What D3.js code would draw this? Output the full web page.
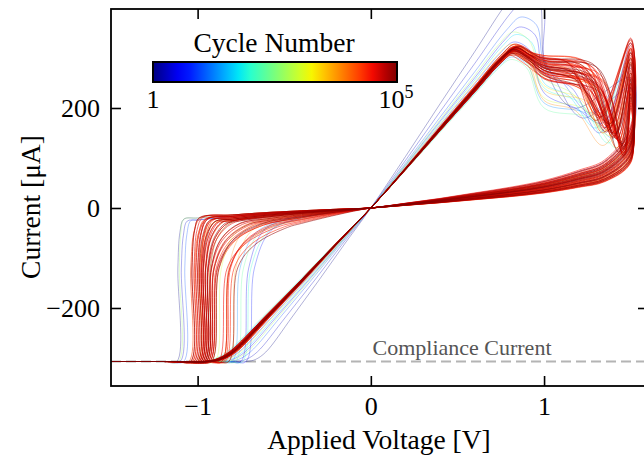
<!DOCTYPE html>
<html>
<head>
<meta charset="utf-8">
<script src="https://cdn.jsdelivr.net/npm/d3@7"></script>
<style>
  body { margin: 0; background: #fff; }
  svg { display: block; font-family: "Liberation Serif", "Times New Roman", serif; }
</style>
</head>
<body>
<div id="chart"></div>
<script>
// sweep cycle numbers (colour = log10 cycle, jet)
let cycles = [1, 2, 3, 5, 10, 20, 50, 100, 200, 500, 1000, 2000, 4000, 7000,
  10000, 11000, 12000, 13000, 14000, 15000, 16000, 17000, 18000, 19000,
  20000, 21000, 22000, 23000, 24000, 25000, 26000, 27000, 28000, 29000,
  30000, 31000, 32000, 33000, 34000, 35000, 36000, 37000, 38000, 39000,
  40000, 43000, 46000, 50000, 55000, 60000, 65000, 70000, 75000, 80000,
  85000, 90000, 93000, 96000, 98000, 100000]

// per cycle values
let lrsGain = [1.32, 1.22, 1.10, 1.05, 1.15, 0.97, 1.08, 1.03, 0.96, 1.12, 1.02, 1.06, 1.01, 0.98,
  1.02, 0.99, 1.01, 1.00, 0.98, 1.03, 1.00, 0.99, 1.01, 1.02,
  0.98, 1.00, 1.01, 0.99, 1.00, 1.02, 0.99, 1.01, 1.00, 0.98,
  1.01, 1.00, 0.99, 1.02, 1.00, 1.01, 0.99, 1.00, 1.01, 1.00,
  0.99, 1.03, 1.00, 0.98, 1.01, 1.00, 0.99, 1.02, 1.00, 1.01,
  0.99, 1.00, 1.01, 0.98, 1.00, 1.01]
let peakI = [440, 420, 360, 330, 380, 300, 345, 320, 295, 350, 310, 325, 315, 305,
  318, 312, 322, 308, 315, 325, 310, 320, 316, 305,
  318, 322, 312, 315, 309, 320, 317, 313, 324, 311,
  316, 319, 307, 321, 314, 318, 312, 316, 320, 313,
  317, 326, 311, 304, 319, 315, 322, 309, 318, 314,
  321, 312, 316, 308, 319, 315]
let plateauA = [330, 300, 270, 230, 290, 210, 250, 240, 200, 260, 220, 245, 235, 215,
  290, 275, 300, 265, 285, 305, 270, 295, 280, 260,
  290, 300, 275, 285, 265, 295, 280, 270, 305, 285,
  275, 295, 260, 300, 280, 290, 270, 285, 298, 275,
  288, 302, 268, 258, 292, 282, 296, 272, 287, 279,
  299, 266, 284, 276, 293, 281]
let plateauB = [280, 260, 240, 200, 250, 190, 225, 210, 180, 230, 200, 220, 215, 195,
  270, 250, 285, 240, 265, 290, 245, 280, 255, 235,
  275, 288, 250, 268, 238, 282, 260, 248, 292, 270,
  255, 280, 236, 286, 258, 274, 244, 266, 284, 252,
  272, 290, 242, 232, 278, 262, 283, 250, 270, 258,
  286, 240, 265, 252, 280, 262]
let resetV = [1.05, 1.10, 1.20, 1.22, 1.15, 1.28, 1.18, 1.25, 1.30, 1.20, 1.26, 1.24, 1.28, 1.22,
  1.22, 1.30, 1.26, 1.35, 1.20, 1.28, 1.33, 1.24, 1.38, 1.27,
  1.31, 1.19, 1.29, 1.36, 1.25, 1.32, 1.23, 1.34, 1.28, 1.21,
  1.37, 1.26, 1.30, 1.24, 1.33, 1.29, 1.35, 1.27, 1.31, 1.25,
  1.32, 1.18, 1.29, 1.36, 1.23, 1.30, 1.27, 1.34, 1.21, 1.28,
  1.33, 1.26, 1.31, 1.24, 1.35, 1.29]
let lowI = [200, 180, 150, 170, 190, 140, 160, 130, 120, 175, 145, 155, 165, 125,
  150, 120, 170, 110, 180, 140, 125, 160, 100, 155,
  135, 185, 145, 115, 165, 130, 175, 105, 150, 190,
  120, 160, 140, 170, 125, 150, 110, 165, 135, 155,
  130, 175, 145, 105, 160, 138, 150, 118, 182, 142,
  128, 168, 112, 152, 122, 148]
let topI = [260, 240, 300, 330, 280, 250, 310, 200, 180, 290, 230, 300, 270, 210,
  300, 250, 320, 220, 330, 270, 240, 310, 200, 290,
  260, 335, 280, 230, 315, 250, 325, 210, 295, 340,
  235, 305, 265, 320, 245, 285, 215, 310, 255, 300,
  275, 330, 248, 205, 318, 262, 292, 228, 338, 270,
  242, 312, 222, 298, 258, 288]
let returnI = [150, 140, 120, 160, 130, 110, 145, 100, 95, 135, 115, 140, 130, 105,
  120, 105, 140, 95, 150, 115, 100, 135, 90, 125,
  110, 160, 118, 98, 145, 108, 155, 92, 128, 165,
  102, 138, 112, 148, 100, 130, 95, 142, 115, 132,
  122, 150, 108, 92, 140, 118, 128, 100, 158, 124,
  106, 145, 96, 134, 110, 126]
let negScale = [0.5, 0.6, 1.5, 1.8, 0.6, 1.6, 1.0, 1.9, 1.7, 0.5, 1.2, 0.9, 1.4, 1.3,
  1.0, 0.7, 1.8, 0.6, 0.9, 2.2, 0.8, 0.5, 1.4, 0.8,
  1.6, 0.6, 1.0, 2.6, 0.6, 1.2, 0.7, 2.0, 0.5, 0.9,
  1.5, 0.7, 2.4, 0.6, 1.1, 1.8, 0.5, 0.8, 1.3, 0.7,
  0.9, 2.1, 0.6, 1.0, 1.7, 0.8, 0.6, 1.4, 0.9, 2.8,
  0.7, 1.2, 0.5, 1.6, 0.8, 1.0]
let onsetV = [-1.08, -1.06, -0.45, -0.40, -1.04, -0.50, -0.80, -0.42, -0.48, -1.08, -0.65, -0.92, -0.55, -0.60,
  -0.80, -0.92, -0.62, -0.95, -0.85, -0.55, -0.90, -0.98, -0.72, -0.88,
  -0.68, -0.94, -0.82, -0.50, -0.96, -0.75, -0.91, -0.58, -0.99, -0.86,
  -0.70, -0.93, -0.54, -0.95, -0.80, -0.62, -0.97, -0.87, -0.74, -0.92,
  -0.89, -0.56, -0.95, -0.82, -0.64, -0.90, -0.94, -0.70, -0.86, -0.48,
  -0.93, -0.76, -0.99, -0.63, -0.90, -0.84]
let setV = [-1.12, -1.10, -0.75, -0.72, -1.08, -0.80, -0.95, -0.74, -0.78, -1.11, -0.90, -1.00, -0.82, -0.86,
  -0.95, -1.00, -0.92, -1.03, -0.97, -0.86, -0.99, -1.05, -0.94, -0.98,
  -0.93, -1.01, -0.96, -0.84, -1.02, -0.95, -0.98, -0.85, -1.04, -0.97,
  -0.94, -0.99, -0.88, -1.00, -0.96, -0.93, -1.03, -0.97, -0.95, -0.99,
  -0.98, -0.86, -1.02, -0.96, -0.93, -0.99, -1.01, -0.94, -0.97, -0.82,
  -1.00, -0.95, -1.04, -0.92, -0.98, -0.96]

// shared loop shape (main band)
let lrsPosV = [0, 0.2, 0.4, 0.6, 0.8]
let lrsPosI = [0, 78, 158, 237, 316]
let lrsNegV = [-0.95, -0.88, -0.8, -0.6, -0.4, -0.2, 0]
let lrsNegI = [-307, -303, -288, -218, -146, -72, 0]
let hrsV = [1.35, 1.2, 1.0, 0.8, 0.6, 0.4, 0.2, 0]
let hrsI = [70, 55, 40, 30, 22, 14, 7, 0]
let negV = [0, -0.2, -0.4, -0.6, -0.8, -1.0, -1.2]
let negI = [0, -5, -11, -18, -28, -40, -52]
let compliance = -307

let xTicks = [-1, 0, 1]
let yTicks = [-200, 0, 200]

let width = 644,
    height = 456

let x = d3.scaleLinear().domain([-1.5, 1.6]).range([111, 648])
let y = d3.scaleLinear().domain([-356, 400]).range([386, 8])

// matplotlib jet
let jetR = d3.scaleLinear().domain([0, 0.35, 0.66, 0.89, 1]).range([0, 0, 1, 1, 0.5])
let jetG = d3.scaleLinear().domain([0, 0.125, 0.375, 0.64, 0.91, 1]).range([0, 0, 1, 1, 0, 0])
let jetB = d3.scaleLinear().domain([0, 0.11, 0.34, 0.65, 1]).range([0.5, 1, 1, 0, 0])
let jet = t => d3.rgb(jetR(t) * 255, jetG(t) * 255, jetB(t) * 255).toString()
let cycleT = d3.scaleLog().domain([1, 1e5]).range([0, 1])

let svg = d3.select("#chart").append("svg")
    .attr("width", width)
    .attr("height", height)

svg.append("defs").append("clipPath")
    .attr("id", "plotclip")
  .append("rect")
    .attr("x", 111).attr("y", 9)
    .attr("width", 537).attr("height", 377)

// dashed compliance line
svg.append("line")
    .attr("x1", 111).attr("x2", 648)
    .attr("y1", y(compliance)).attr("y2", y(compliance))
    .attr("stroke", "#b4b4b4")
    .attr("stroke-width", 2)
    .attr("stroke-dasharray", "10,5")

svg.append("text")
    .attr("x", 462)
    .attr("y", 355)
    .attr("text-anchor", "middle")
    .attr("font-size", 22)
    .attr("fill", "#555")
    .text("Compliance Current")

let lrsPos = d3.scaleLinear().domain(lrsPosV).range(lrsPosI)
let negHrs = d3.scaleLinear().domain(negV).range(negI)

function loop(i) {
  let g = lrsGain[i], pk = peakI[i], rv = resetV[i]
  let vp = lrsPos.invert(pk / g)
  let pts = [[-1.5, compliance], [-1.2, compliance]]
  lrsNegV.forEach((v, j) => pts.push([v / g, lrsNegI[j]]))
  lrsPosV.forEach((v, j) => { if (v > 0 && v < vp - 0.1) pts.push([v, lrsPosI[j] * g]) })
  pts.push([vp - 0.05, lrsPos(vp - 0.05) * g])
  pts.push([vp + 0.03, pk + 2])
  pts.push([vp + 0.12, pk - 14])
  if (rv > 1.05) pts.push([1.0, plateauA[i]])
  pts.push([rv - 0.04, plateauB[i]])
  pts.push([Math.min(rv + 0.12, 1.46), lowI[i]])
  pts.push([1.5, topI[i]])
  pts.push([1.5, returnI[i]])
  hrsV.forEach((v, j) => pts.push([v, hrsI[j] * returnI[i] / 120]))
  let on = onsetV[i], sv = setV[i], ns = negScale[i]
  negV.forEach(v => { if (v < 0 && v > on + 0.03) pts.push([v, negHrs(v) * ns]) })
  let h0 = negHrs(on) * ns
  pts.push([on, h0])
  pts.push([on + 0.55 * (sv - on), h0 * 1.5 - 15])
  pts.push([on + 0.85 * (sv - on), -120])
  pts.push([sv, compliance])
  pts.push([sv - 0.08, compliance])
  pts.push([-1.5, compliance])
  return pts
}

let line = d3.line()
    .x(d => x(d[0]))
    .y(d => y(d[1]))
    .curve(d3.curveCatmullRom.alpha(0.5))

svg.append("g")
    .attr("clip-path", "url(#plotclip)")
  .selectAll("path")
  .data(cycles.map((c, i) => ({c: c, pts: loop(i)})))
  .enter().append("path")
    .attr("d", d => line(d.pts))
    .attr("fill", "none")
    .attr("stroke", d => jet(cycleT(d.c)))
    .attr("stroke-width", d => d.c < 10000 ? 0.9 : 1.0)
    .attr("stroke-opacity", d => d.c < 10000 ? 0.35 : 0.55)

// axes, ticks pointing in
let tickStyle = g => {
  g.select(".domain").remove()
  g.selectAll(".tick line").attr("stroke-width", 1.6)
  g.selectAll(".tick text").attr("font-size", 26).attr("fill", "#000")
  g.attr("font-family", null)
}

svg.append("g")
    .attr("transform", "translate(0,386)")
    .call(d3.axisBottom(x).tickValues(xTicks).tickFormat(d3.format("d"))
      .tickSizeInner(-10).tickSizeOuter(0).tickPadding(11))
    .call(tickStyle)
svg.append("g")
    .attr("transform", "translate(0,9)")
    .call(d3.axisTop(x).tickValues(xTicks).tickSizeInner(-10).tickSizeOuter(0).tickFormat(""))
    .call(tickStyle)
svg.append("g")
    .attr("transform", "translate(111,0)")
    .call(d3.axisLeft(y).tickValues(yTicks).tickFormat(d3.format("d"))
      .tickSizeInner(-10).tickSizeOuter(0).tickPadding(11))
    .call(tickStyle)
svg.append("g")
    .attr("transform", "translate(648,0)")
    .call(d3.axisRight(y).tickValues(yTicks).tickSizeInner(-10).tickSizeOuter(0).tickFormat(""))
    .call(tickStyle)

svg.append("rect")
    .attr("x", 111).attr("y", 9)
    .attr("width", 537).attr("height", 377)
    .attr("fill", "none")
    .attr("stroke", "#000")
    .attr("stroke-width", 1.8)

svg.append("text")
    .attr("x", 379)
    .attr("y", 449)
    .attr("text-anchor", "middle")
    .attr("font-size", 27.5)
    .text("Applied Voltage [V]")

svg.append("text")
    .attr("transform", "translate(40,207) rotate(-90)")
    .attr("text-anchor", "middle")
    .attr("font-size", 27.5)
    .text("Current [μA]")

// colour bar
let grad = svg.select("defs").append("linearGradient")
    .attr("id", "jetgrad")
grad.selectAll("stop")
  .data(d3.range(0, 1.0001, 0.05))
  .enter().append("stop")
    .attr("offset", d => d)
    .attr("stop-color", d => jet(d))

svg.append("rect")
    .attr("x", 153).attr("y", 62)
    .attr("width", 244).attr("height", 20)
    .attr("fill", "url(#jetgrad)")
    .attr("stroke", "#000")
    .attr("stroke-width", 2)

svg.append("text")
    .attr("x", 274)
    .attr("y", 52)
    .attr("text-anchor", "middle")
    .attr("font-size", 27.5)
    .text("Cycle Number")

svg.append("text")
    .attr("x", 153)
    .attr("y", 108)
    .attr("text-anchor", "middle")
    .attr("font-size", 26)
    .text("1")

let hi = svg.append("text")
    .attr("x", 396)
    .attr("y", 108)
    .attr("text-anchor", "middle")
    .attr("font-size", 26)
hi.append("tspan").text("10")
hi.append("tspan").attr("dy", -10).attr("font-size", 18).text("5")
</script>
</body>
</html>
